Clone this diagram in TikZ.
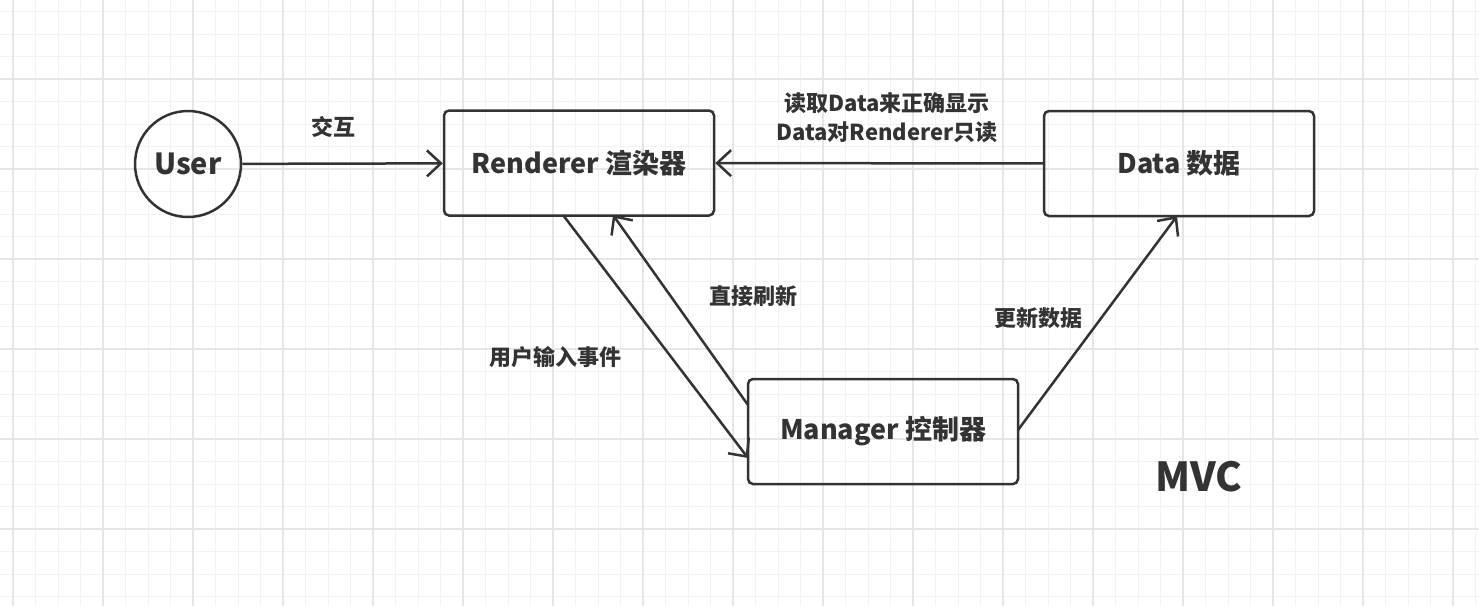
\documentclass[tikz,border=0pt]{standalone}
\usepackage{fontspec}
\setmainfont{Noto Sans CJK SC}
\usetikzlibrary{arrows.meta}
\definecolor{ink}{HTML}{333333}
\definecolor{gridminor}{HTML}{F2F2F2}
\definecolor{gridmajor}{HTML}{E6E6E6}
\tikzset{
  boxnode/.style={draw=ink, line width=2.5pt, rounded corners=5pt, minimum width=270pt, minimum height=105pt, inner sep=0pt, font=\fontsize{27}{32}\selectfont\bfseries, text=ink},
  usernode/.style={draw=ink, line width=2.5pt, circle, minimum size=106pt, inner sep=0pt, font=\fontsize{29}{34}\selectfont\bfseries, text=ink},
  lbl/.style={font=\fontsize{22}{29}\selectfont\bfseries, text=ink, align=center, inner sep=0pt},
  conn/.style={draw=ink, line width=2.5pt, -{Straight Barb[length=14pt,width=26pt]}},
}
\begin{document}
\begin{tikzpicture}[x=1pt,y=-1pt]
\useasboundingbox (0,0) rectangle (1479,606);
\fill[white] (0,0) rectangle (1479,606);
% grid
\foreach \i in {0,...,66} {
  \draw[gridminor, line width=1pt] ({13+22.5*\i},0) -- ({13+22.5*\i},606);
}
\foreach \i in {0,...,27} {
  \draw[gridminor, line width=1pt] (0,{11.5+22.5*\i}) -- (1479,{11.5+22.5*\i});
}
\foreach \i in {0,...,16} {
  \draw[gridmajor, line width=1.3pt] ({13+90*\i},0) -- ({13+90*\i},606);
}
\foreach \i in {0,...,7} {
  \draw[gridmajor, line width=1.3pt] (0,{79-90+90*\i}) -- (1479,{79-90+90*\i});
}
% nodes
\node[usernode] (user) at (188,164) {User};
\node[boxnode] (rend) at (579,163) {Renderer 渲染器};
\node[boxnode] (data) at (1179,163.5) {Data 数据};
\node[boxnode] (mgr) at (883,431.5) {Manager 控制器};
% connector anchors
\coordinate (r1) at (563,215);
\coordinate (r2) at (613,215);
\coordinate (m1) at (748,458);
\coordinate (m2) at (748,405);
\coordinate (m3) at (1018,430);
\coordinate (d1) at (1177,216);
% connectors
\draw[conn] (user) -- (rend);
\draw[conn] (data) -- (rend);
\draw[conn] (r1) -- (m1);
\draw[conn] (m2) -- (r2);
\draw[conn] (m3) -- (d1);
% labels
\node[lbl] (l1) at (333,127) {交互};
\node[lbl] (l2) at (887,118) {读取Data来正确显示\\Data对Renderer只读};
\node[lbl] (l3) at (753,296) {直接刷新};
\node[lbl] (l4) at (555,357) {用户输入事件};
\node[lbl] (l5) at (1038,318) {更新数据};
\node[font=\fontsize{40}{46}\selectfont\bfseries, text=ink, inner sep=0pt] (mvc) at (1199,477) {MVC};
\end{tikzpicture}
\end{document}
